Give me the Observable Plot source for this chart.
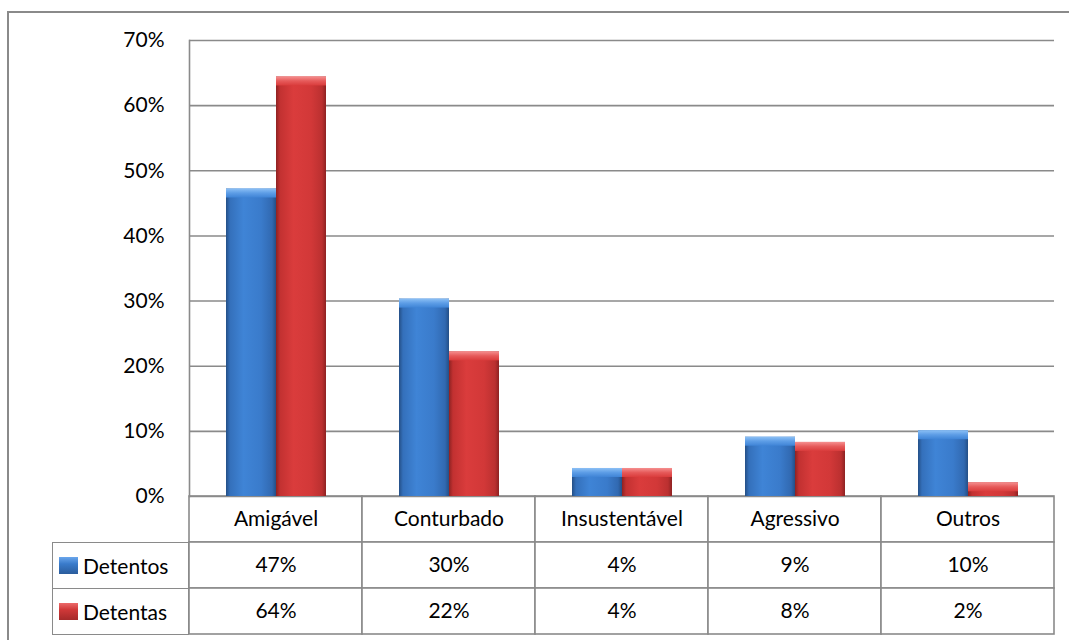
<!DOCTYPE html>
<html>
<head>
<meta charset="utf-8">
<script src="https://cdn.jsdelivr.net/npm/d3@7"></script>
<script src="https://cdn.jsdelivr.net/npm/@observablehq/plot@0.6"></script>
<style>
  html, body { margin: 0; padding: 0; background: #fff; overflow: hidden; }
  #wrap { position: relative; width: 1069px; height: 640px; overflow: hidden; font-family: Lato, "Open Sans", sans-serif; }
  #outer { position: absolute; left: 7px; top: 11px; width: 1100px; height: 700px; border: 2px solid #8a8a8a; box-sizing: border-box; }
  #chart, #table { position: absolute; left: 0; }
  #chart { top: 0; }
  #table { top: 495px; }
  .leg { position: absolute; left: 52px; width: 137px; box-sizing: border-box; border: 1.6px solid #8a8a8a; background: #fff;
         font-size: 21px; color: #000; display: flex; align-items: center; }
  .sw { width: 19px; height: 17px; margin: 0 5px 0 6px; flex: none; }
</style>
</head>
<body>
<div id="wrap">
  <div id="outer"></div>
  <div id="table"></div>
  <div id="chart"></div>
  <div id="legend"></div>
</div>
<script>
const categories = ["Amigável", "Conturbado", "Insustentável", "Agressivo", "Outros"];
const series = ["Detentos", "Detentas"];
const detentos = [47.2, 30.3, 4.3, 9.1, 10.1];
const detentas = [64.4, 22.2, 4.3, 8.3, 2.1];
const yTicks = [0, 10, 20, 30, 40, 50, 60, 70];
const seriesFill = {Detentos: "url(#gBlue)", Detentas: "url(#gRed)"};
const seriesCap = {Detentos: "url(#cBlue)", Detentas: "url(#cRed)"};

const data = categories.flatMap((c, i) => [
  {cat: c, series: series[0], value: detentos[i]},
  {cat: c, series: series[1], value: detentas[i]}
]);

const grid = "#8a8a8a";
const font = "Lato, 'Open Sans', sans-serif";

const chart = Plot.plot({
  width: 1069,
  height: 512,
  marginTop: 40,
  marginBottom: 16,
  marginLeft: 188,
  marginRight: 15,
  style: {fontFamily: font, fontSize: "21px", color: "#000", background: "transparent", overflow: "visible"},
  fx: {domain: categories, padding: 0, axis: null, label: null},
  x: {domain: series, paddingInner: 0, paddingOuter: 0.73, axis: null},
  y: {domain: [0, 70]},
  marks: [
    Plot.ruleY(yTicks, {stroke: grid, strokeWidth: 1.6}),
    Plot.frame({anchor: "left", stroke: grid, strokeWidth: 1.6, facetAnchor: "left"}),
    ...series.map(s => Plot.barY(data, {
      filter: d => d.series === s, fx: "cat", x: "series", y: "value",
      fill: seriesFill[s], inset: 0
    })),
    ...series.map(s => Plot.barY(data, {
      filter: d => d.series === s, fx: "cat", x: "series", y1: "value", y2: "value",
      fill: seriesCap[s], inset: 0, insetBottom: -9
    })),
    Plot.axisY(yTicks, {tickSize: 0, tickPadding: 25, tickFormat: d => d + "%", label: null, fontSize: 21})
  ]
});

const svg = d3.select(chart.tagName === "svg" ? chart : chart.querySelector("svg"));
const defs = svg.insert("defs", ":first-child");
function hGrad(id, stops) {
  const g = defs.append("linearGradient").attr("id", id).attr("x1", 0).attr("x2", 1).attr("y1", 0).attr("y2", 0);
  stops.forEach(([o, c]) => g.append("stop").attr("offset", o).attr("stop-color", c));
}
function vGrad(id, stops) {
  const g = defs.append("linearGradient").attr("id", id).attr("x1", 0).attr("x2", 0).attr("y1", 0).attr("y2", 1);
  stops.forEach(([o, c]) => g.append("stop").attr("offset", o).attr("stop-color", c));
}
hGrad("gBlue", [[0, "#244f86"], [0.08, "#3470bb"], [0.35, "#3f84d6"], [0.7, "#3a7bcb"], [0.92, "#3169b1"], [1, "#244f86"]]);
hGrad("gRed", [[0, "#8e2222"], [0.08, "#c23131"], [0.35, "#da3c3c"], [0.7, "#d23838"], [0.92, "#bb3030"], [1, "#8e2222"]]);
vGrad("cBlue", [[0, "#8cc0f5"], [0.5, "#5d9de6"], [1, "#3f84d6"]]);
vGrad("cRed", [[0, "#f58f8f"], [0.5, "#e65a5a"], [1, "#da3c3c"]]);
document.getElementById("chart").appendChild(chart);

// data table
const rows = ["head", ...series];
const fmt = v => Math.round(v) + "%";
const tableData = categories.flatMap((c, i) => [
  {cat: c, row: "head", text: c},
  {cat: c, row: series[0], text: fmt(detentos[i])},
  {cat: c, row: series[1], text: fmt(detentas[i])}
]);
const table = Plot.plot({
  width: 1069,
  height: 140,
  marginTop: 1,
  marginBottom: 1,
  marginLeft: 188,
  marginRight: 15,
  style: {fontFamily: font, fontSize: "21px", color: "#000", background: "transparent", overflow: "visible"},
  x: {domain: categories, padding: 0, axis: null},
  y: {domain: rows, padding: 0, axis: null},
  marks: [
    Plot.cell(tableData, {x: "cat", y: "row", fill: "white", stroke: grid, strokeWidth: 1.6, inset: 0}),
    Plot.text(tableData, {x: "cat", y: "row", text: "text", fontSize: 21, fill: "#000"})
  ]
});
document.getElementById("table").appendChild(table);

// legend cells (series keys of the data table)
const legendFill = {
  Detentos: "linear-gradient(to bottom, #6aa6ec 0%, #3a7bcb 40%, #2a5c9c 100%)",
  Detentas: "linear-gradient(to bottom, #ec6a6a 0%, #cf3838 40%, #a52a2a 100%)"
};
const leg = document.getElementById("legend");
series.forEach((s, i) => {
  const d = document.createElement("div");
  d.className = "leg";
  d.style.top = (i === 0 ? 542 : 588) + "px";
  d.style.height = "47px";
  const sw = document.createElement("span");
  sw.className = "sw";
  sw.style.background = legendFill[s];
  d.appendChild(sw);
  d.appendChild(document.createTextNode(s));
  leg.appendChild(d);
});
</script>
</body>
</html>
